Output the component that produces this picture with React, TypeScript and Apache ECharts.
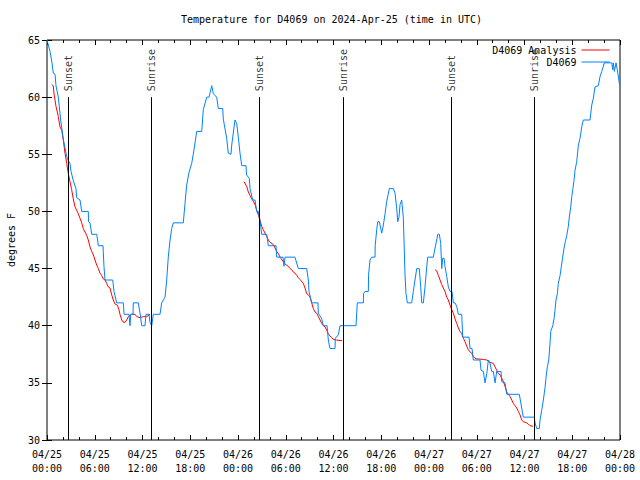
import React, { useEffect, useRef } from "react";
import * as echarts from "echarts";

// Observed temperature, D4069: [hours since 04/25 00:00 UTC, degrees F]
const observed: [number, number][] = [
  [0, 65], [0.38, 64], [0.63, 63], [0.79, 62.1], [1.01, 62], [1.13, 61], [1.42, 60], [1.72, 58],
  [2.05, 56.3], [2.48, 54.8], [2.64, 54.5], [2.89, 54.2], [3.02, 53.5], [3.3, 52.7], [3.64, 52],
  [3.73, 51.2], [4.15, 51], [4.36, 50], [5.19, 50], [5.22, 49.1], [5.4, 49], [5.62, 48], [6.25, 48],
  [6.45, 47], [7.04, 47], [7.07, 46.5], [7.16, 45.2], [7.29, 44], [8.26, 44], [8.42, 43], [8.76, 42],
  [9.59, 42], [9.68, 41], [10.3, 41], [10.43, 40], [10.52, 41], [10.81, 41], [10.84, 42], [11.47, 42],
  [11.69, 41.1], [11.9, 40], [12.31, 40], [12.44, 41], [12.82, 41], [12.94, 40.3], [13.16, 40],
  [13.36, 41], [14.2, 41], [14.41, 42], [14.83, 42.5], [15.04, 44], [15.24, 46], [15.46, 47.5],
  [15.67, 48.5], [15.87, 49], [17.13, 49], [17.34, 50.7], [17.55, 52.3], [17.84, 53.4], [18.18, 54.2],
  [18.38, 55], [18.6, 56], [18.81, 57], [19.44, 57], [19.64, 58.9], [20.07, 60], [20.36, 60],
  [20.7, 61], [20.9, 60.3], [21.32, 60], [21.53, 59], [22.08, 59], [22.15, 58.1], [22.58, 56.4],
  [22.78, 55.1], [23.12, 55], [23.21, 55.8], [23.62, 58], [23.84, 57.7], [24.04, 56.5], [24.25, 55.1],
  [24.47, 54], [25.01, 54], [25.07, 53.2], [25.42, 52.9], [25.51, 52], [25.85, 51], [26.14, 51],
  [26.35, 50], [26.55, 50], [26.77, 49.2], [26.98, 48], [27.61, 48], [27.81, 47], [28.78, 47],
  [28.86, 46], [29.66, 46], [29.78, 45.2], [29.91, 46], [31.16, 46], [31.58, 45], [32.63, 45],
  [32.84, 44], [32.92, 43], [33.26, 42], [34.05, 42], [34.09, 41.1], [34.52, 40.6], [34.72, 40],
  [35.19, 40], [35.35, 38.75], [35.56, 38], [36.19, 38], [36.23, 38.9], [36.61, 39.2], [36.82, 40],
  [38.83, 40], [38.99, 42], [39.75, 42], [39.77, 42.8], [39.96, 43], [40.38, 43], [40.4, 44.4],
  [40.59, 45.75], [40.8, 46], [41.22, 46], [41.24, 47], [41.43, 48.4], [41.56, 49.1], [41.76, 49.1],
  [42.06, 48.1], [42.26, 48.8], [42.48, 49.8], [42.69, 50.9], [43.02, 52], [43.52, 52], [43.73, 51.6],
  [43.94, 50.3], [44.07, 49.1], [44.23, 49.5], [44.36, 50.6], [44.57, 51], [44.77, 49.5], [44.86, 47.5],
  [44.99, 44.4], [45.11, 42.8], [45.28, 42], [45.83, 42], [46.03, 43], [46.24, 44], [46.46, 45],
  [46.78, 45], [46.96, 43.4], [47.09, 42], [47.29, 42], [47.5, 43.4], [47.72, 45.2], [47.84, 46],
  [48.54, 46], [48.76, 46.8], [48.97, 47.5], [49.1, 48], [49.3, 48], [49.47, 47.2], [49.6, 45],
  [49.72, 45.9], [49.89, 45.9], [50.01, 45.2], [50.23, 44.3], [50.43, 43.4], [50.64, 43], [50.89, 43],
  [51.06, 42], [51.27, 42], [51.48, 41.7], [51.69, 41], [52.11, 41], [52.24, 39], [53.03, 39],
  [53.16, 38], [53.41, 38], [53.57, 37], [54.41, 37], [54.54, 36.1], [54.83, 36], [55.04, 35],
  [55.26, 35.8], [55.46, 37], [55.67, 36.7], [55.88, 36], [56.08, 36], [56.3, 35], [56.51, 36],
  [57.05, 36], [57.14, 35.1], [57.55, 35], [57.77, 34], [59.35, 34], [59.65, 32.8], [59.85, 32],
  [61.24, 32], [61.32, 31.5], [61.54, 31], [61.86, 31], [61.95, 31.75], [62.16, 32.6], [62.37, 33.5],
  [62.58, 34.6], [62.71, 35.5], [62.87, 36.4], [63.05, 37], [63.21, 38.5], [63.3, 39.5], [63.55, 40],
  [63.71, 40.6], [63.84, 41.4], [63.96, 42.25], [64.13, 42.8], [64.25, 43.7], [64.47, 44.4],
  [64.63, 45.2], [64.8, 46], [64.97, 46.8], [65.13, 47.35], [65.31, 47.9], [65.51, 48.7], [65.63, 49.5],
  [65.81, 50.4], [65.94, 51.3], [66.06, 51.9], [66.22, 52.7], [66.35, 53.6], [66.56, 54.35],
  [66.77, 55.8], [66.98, 56.4], [67.19, 57.4], [67.39, 58], [68.23, 58], [68.45, 59.3], [68.65, 59.9],
  [68.86, 60.9], [69.28, 61], [69.49, 61.8], [69.71, 62.25], [70.03, 63], [70.96, 63], [71.09, 62.4],
  [71.16, 63], [71.29, 62.25], [71.5, 63], [71.66, 62.4], [71.92, 61.2], [72, 61],
];

// Analysis (three overnight runs)
const analysisNight1: [number, number][] = [
  [0.59, 61.1], [0.79, 61], [0.88, 60.3], [1.13, 59.2], [1.42, 58.3], [1.63, 57.4], [1.85, 57.1],
  [2.05, 56.25], [2.26, 55.1], [2.48, 54.2], [2.68, 53.3], [2.89, 52.6], [3.1, 51.9], [3.3, 51.1],
  [3.52, 50.4], [3.73, 50.1], [3.93, 49.8], [4.15, 49.4], [4.36, 49], [4.56, 48.5], [4.99, 47.9],
  [5.19, 47.5], [5.4, 46.9], [5.62, 46.5], [5.82, 46.2], [6.03, 45.75], [6.25, 45.3], [6.45, 45],
  [6.66, 44.6], [6.87, 44.4], [7.07, 44.1], [7.29, 44], [7.5, 43.7], [7.7, 43.4], [7.92, 43.3],
  [8.13, 42.7], [8.33, 42.25], [8.55, 41.9], [8.83, 41.8], [9.05, 41.4], [9.17, 41], [9.39, 40.5],
  [9.59, 40.3], [9.8, 40.3], [10.02, 40.5], [10.22, 40.8], [10.64, 41], [11.06, 41], [11.27, 40.8],
  [11.69, 40.7], [12.1, 40.8], [12.53, 40.8], [12.94, 41],
];
const analysisNight2: [number, number][] = [
  [24.76, 52.6], [25.09, 52.2], [25.3, 51.7], [25.51, 51.4], [25.72, 51.1], [25.92, 50.9],
  [26.14, 50.6], [26.35, 50.1], [26.55, 49.7], [26.77, 49.2], [26.98, 48.7], [27.18, 48.4],
  [27.39, 48.1], [27.61, 47.8], [27.81, 47.5], [28.02, 47.3], [28.44, 47.1], [28.65, 46.8],
  [28.86, 46.5], [29.07, 46.3], [29.28, 46], [29.69, 45.6], [29.91, 45.4], [30.12, 45.3],
  [30.32, 45.2], [30.54, 45], [30.75, 44.9], [30.95, 44.7], [31.16, 44.6], [31.38, 44.4],
  [31.58, 44.2], [31.79, 44.05], [32.21, 43.7], [32.42, 43.3], [32.63, 42.8], [32.84, 42.7],
  [33.05, 42.5], [33.26, 42], [33.46, 41.5], [33.68, 41.2], [33.89, 41.1], [34.09, 40.8],
  [34.31, 40.5], [34.52, 40.2], [34.72, 40], [34.93, 39.9], [35.15, 39.6], [35.35, 39.3],
  [35.56, 39.1], [35.78, 38.95], [35.98, 38.8], [36.4, 38.75], [36.82, 38.7], [37.07, 38.7],
];
const analysisNight3: [number, number][] = [
  [48.76, 44.9], [48.97, 44.8], [49.17, 44.4], [49.39, 44], [49.6, 43.6], [49.8, 43.3], [50.01, 43],
  [50.23, 42.5], [50.43, 42.25], [50.64, 41.8], [50.86, 41.4], [51.06, 41.1], [51.27, 40.6],
  [51.48, 40.2], [51.69, 39.8], [51.9, 39.5], [52.11, 39.3], [52.32, 38.9], [52.53, 38.6],
  [52.74, 38.2], [52.94, 37.9], [53.16, 37.7], [53.37, 37.6], [53.57, 37.3], [53.78, 37.15],
  [54.0, 37.1], [54.83, 37.05], [55.26, 37], [55.46, 36.9], [55.67, 36.8], [56.08, 36.7],
  [56.3, 36.4], [56.51, 36.1], [56.71, 35.8], [56.92, 35.7], [57.35, 35.1], [57.55, 34.7],
  [57.77, 34.2], [58.19, 33.8], [58.4, 33.5], [58.6, 33.2], [58.81, 33], [59.03, 32.8],
  [59.23, 32.5], [59.44, 32.2], [59.65, 31.75], [59.85, 31.6], [60.28, 31.5], [60.48, 31.4],
  [60.69, 31.25], [61.07, 31.2],
];

// Sun events
const sunHours = [2.68, 13.07, 26.68, 37.23, 50.77, 61.24];
const sunLabels = ["Sunset", "Sunrise", "Sunset", "Sunrise", "Sunset", "Sunrise"];
const sunLineTop = 60;

const xTickLabels = [
  "04/25\n00:00", "04/25\n06:00", "04/25\n12:00", "04/25\n18:00",
  "04/26\n00:00", "04/26\n06:00", "04/26\n12:00", "04/26\n18:00",
  "04/27\n00:00", "04/27\n06:00", "04/27\n12:00", "04/27\n18:00",
  "04/28\n00:00",
];

const FONT = "DejaVu Sans Mono";

export default function App() {
  const ref = useRef<HTMLDivElement>(null);
  useEffect(() => {
    document.body.style.margin = "0";
    if (!ref.current) return;
    const chart = echarts.init(ref.current, undefined, { renderer: "svg" });
    const axisLine = { show: false };
    const txt = { fontFamily: FONT, fontSize: 10, color: "#000" };
    const analysisStyle = {
      type: "line" as const,
      name: "D4069 Analysis",
      symbol: "none",
      showSymbol: false,
      lineStyle: { color: "#ff0000", width: 1 },
      itemStyle: { color: "#ff0000" },
      xAxisIndex: 0,
      yAxisIndex: 0,
    };
    const legendCommon = {
      right: 30,
      align: "right",
      orient: "vertical",
      padding: 0,
      itemWidth: 28,
      itemHeight: 10,
      textStyle: txt,
      selectedMode: false,
      itemStyle: { opacity: 0 },
      lineStyle: { width: 1 },
    };
    chart.setOption({
      animation: false,
      backgroundColor: "#fff",
      textStyle: { fontFamily: FONT },
      title: {
        text: "Temperature for D4069 on 2024-Apr-25 (time in UTC)",
        left: 181,
        top: 14,
        padding: 0,
        textStyle: { ...txt, fontWeight: "normal" },
      },
      legend: [
        { ...legendCommon, data: ["D4069 Analysis"], top: 45 },
        { ...legendCommon, data: ["D4069"], top: 57 },
      ],
      grid: {
        left: 47,
        right: 20,
        top: 40,
        bottom: 40,
        outerBoundsMode: "none",
        containLabel: false,
        show: true,
        borderColor: "#000",
        borderWidth: 1,
        backgroundColor: "transparent",
      },
      xAxis: [
        {
          type: "value",
          min: 0,
          max: 72,
          interval: 6,
          axisLine,
          axisTick: { inside: true, length: 5, lineStyle: { color: "#000" } },
          minorTick: { show: true, splitNumber: 3, length: 3, lineStyle: { color: "#000" } },
          splitLine: { show: false },
          axisLabel: {
            ...txt,
            margin: 7,
            lineHeight: 14,
            formatter: (v: number) => xTickLabels[Math.round(v / 6)] ?? "",
          },
        },
        {
          type: "value",
          position: "top",
          min: 0,
          max: 72,
          interval: 6,
          axisLine,
          axisTick: { inside: true, length: 5, lineStyle: { color: "#000" } },
          minorTick: { show: true, splitNumber: 3, length: 3, lineStyle: { color: "#000" } },
          splitLine: { show: false },
          axisLabel: { show: false },
        },
      ],
      yAxis: [
        {
          type: "value",
          min: 30,
          max: 65,
          interval: 5,
          name: "degrees F",
          nameLocation: "middle",
          nameGap: 31,
          nameRotate: 90,
          nameTextStyle: txt,
          axisLine,
          axisTick: { inside: true, length: 5, lineStyle: { color: "#000" } },
          splitLine: { show: false },
          axisLabel: { ...txt, margin: 7 },
        },
        {
          type: "value",
          position: "right",
          min: 30,
          max: 65,
          interval: 5,
          axisLine,
          axisTick: { inside: true, length: 5, lineStyle: { color: "#000" } },
          splitLine: { show: false },
          axisLabel: { show: false },
        },
      ],
      series: [
        {
          type: "scatter",
          name: "sun",
          symbolSize: 0,
          data: sunHours.map((h, i) => ({ value: [h, sunLineTop], name: sunLabels[i] })),
          label: {
            show: true,
            position: "top",
            distance: 4,
            rotate: 90,
            align: "left",
            verticalAlign: "middle",
            offset: [2, 0],
            formatter: (p: any) => p.name,
            ...txt,
          },
          markLine: {
            silent: true,
            symbol: ["none", "none"],
            label: { show: false },
            lineStyle: { color: "#000", width: 1, type: "solid" },
            data: sunHours.map((h) => [{ coord: [h, 30] }, { coord: [h, sunLineTop] }]),
          },
          z: 1,
        },
        { ...analysisStyle, data: analysisNight1, z: 2 },
        { ...analysisStyle, data: analysisNight2, z: 2 },
        { ...analysisStyle, data: analysisNight3, z: 2 },
        {
          type: "line",
          name: "D4069",
          symbol: "none",
          showSymbol: false,
          lineStyle: { color: "#0080ff", width: 1 },
          itemStyle: { color: "#0080ff" },
          data: observed,
          z: 3,
        },
      ],
    });
    return () => chart.dispose();
  }, []);
  return <div ref={ref} style={{ width: 640, height: 480 }} />;
}
